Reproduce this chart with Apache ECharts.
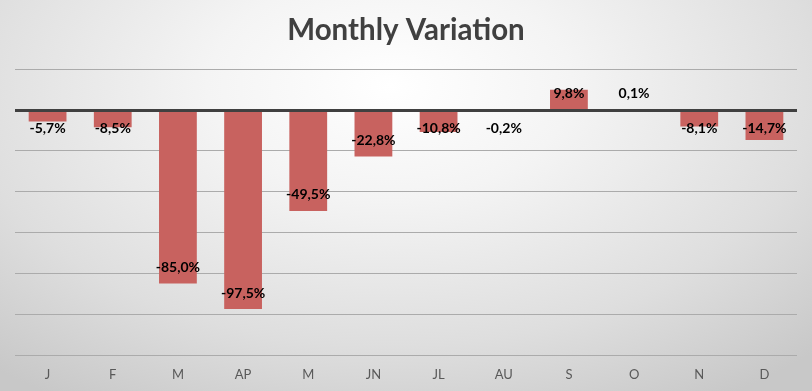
<!DOCTYPE html>
<html>
<head>
<meta charset="utf-8">
<script src="https://cdn.jsdelivr.net/npm/echarts@6/dist/echarts.min.js"></script>
<style>
html,body{margin:0;padding:0;}
#c{width:812px;height:391px;background:radial-gradient(ellipse 75% 95% at 48% 22%, #ffffff 0%, #f4f4f4 30%, #dedede 70%, #c8c8c8 100%);}
</style>
</head>
<body>
<div id="c"></div>
<script>
const categories = ['J','F','M','AP','M','JN','JL','AU','S','O','N','D'];
const values = [-5.7, -8.5, -85.0, -97.5, -49.5, -22.8, -10.8, -0.2, 9.8, 0.1, -8.1, -14.7];
const yTicks = { min: -120, max: 20, interval: 20 };

const chart = echarts.init(document.getElementById('c'), null, { renderer: 'canvas' });

const barData = values.map(v => {
  let label;
  if (v >= 0) label = { position: 'insideBottom', distance: 9 };
  else if (v > -17.6) label = { position: 'insideTop', distance: 12 };
  else label = { position: 'insideBottom', distance: 9 };
  return { value: v, label: label };
});

chart.setOption({
  backgroundColor: 'transparent',
  animation: false,
  title: {
    text: 'Monthly Variation',
    left: 'center',
    top: 10,
    textStyle: { fontFamily: 'Lato', fontWeight: 'bold', fontSize: 29.5, color: '#404040' }
  },
  grid: { left: 15, right: 15, top: 69, bottom: 36, containLabel: false },
  xAxis: {
    type: 'category',
    data: categories,
    axisLine: { show: false, onZero: false },
    axisTick: { show: false },
    axisLabel: { color: '#595959', fontFamily: 'Lato', fontSize: 13, margin: 13 },
    splitLine: { show: false }
  },
  yAxis: {
    type: 'value',
    min: yTicks.min,
    max: yTicks.max,
    interval: yTicks.interval,
    axisLabel: { show: false },
    axisLine: { show: false },
    axisTick: { show: false },
    splitLine: { lineStyle: { color: '#ababab', width: 1 } }
  },
  series: [{
    type: 'bar',
    data: barData,
    barWidth: '58%',
    itemStyle: { color: '#c8625f' },
    label: {
      show: true,
      color: '#000000',
      fontFamily: 'Lato',
      fontWeight: 'bold',
      fontSize: 14,
      formatter: p => p.value.toFixed(1).replace('.', ',') + '%'
    },
    markLine: {
      silent: true,
      symbol: 'none',
      label: { show: false },
      lineStyle: { color: '#404040', width: 3, type: 'solid' },
      data: [{ yAxis: 0 }]
    }
  }]
});
</script>
</body>
</html>
